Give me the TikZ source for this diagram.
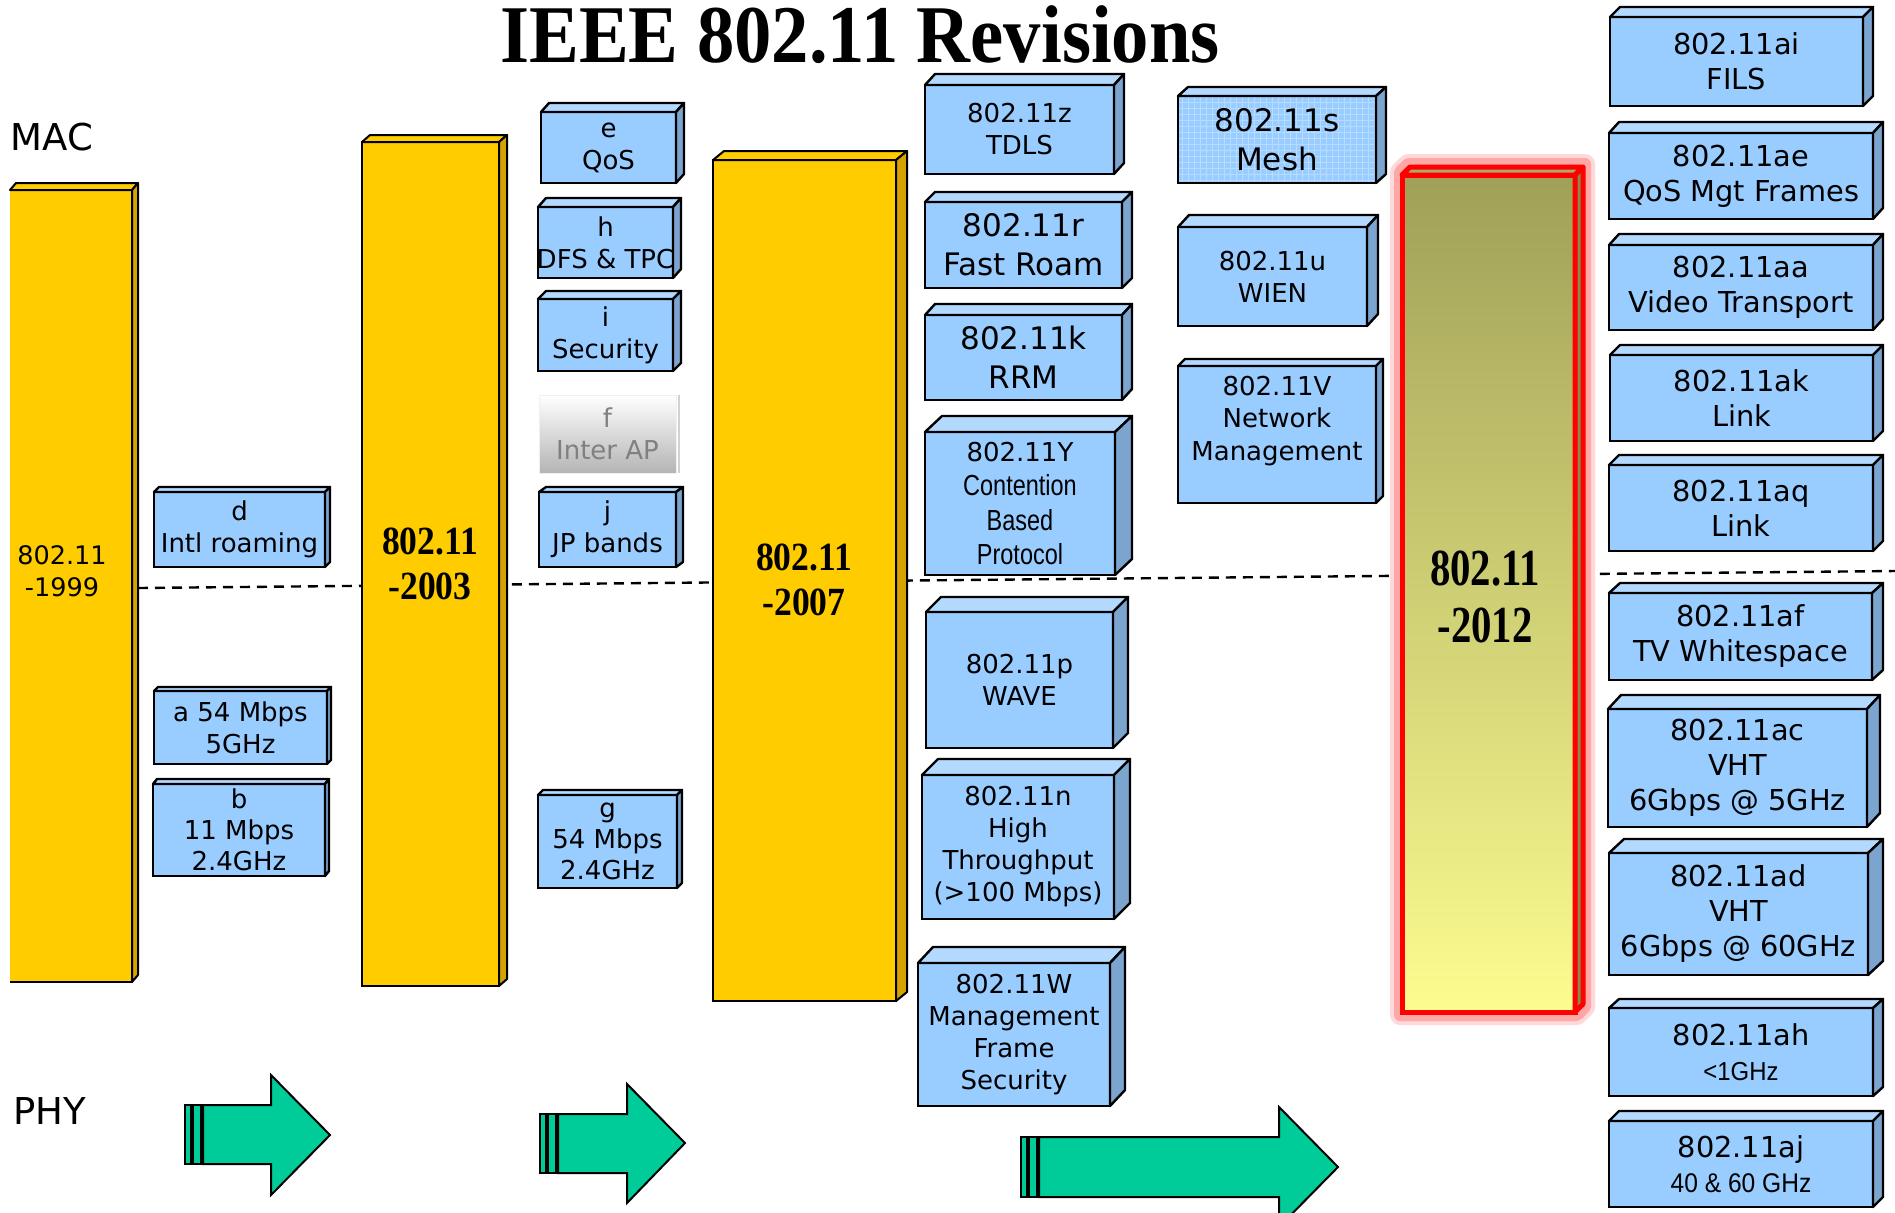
\documentclass[tikz,border=0pt]{standalone}
\usepackage{fontspec}
\setmainfont{DejaVu Sans}
\newfontfamily\revserif{Liberation Serif}
\newfontfamily\revnarrow{Liberation Sans}
\usetikzlibrary{patterns}
\definecolor{revblue}{HTML}{99CCFF}
\definecolor{revbluetop}{HTML}{B3D9FF}
\definecolor{revblueside}{HTML}{7BA4CE}
\definecolor{revmesh}{HTML}{B8DCFF}
\definecolor{revgold}{HTML}{FFCC00}
\definecolor{revgoldside}{HTML}{D4A300}
\definecolor{revgreen}{HTML}{00CC99}
\definecolor{revolive}{HTML}{A0A058}
\definecolor{revpale}{HTML}{FCFC90}
\definecolor{revgray}{HTML}{B4B4B4}
\definecolor{revgraytext}{HTML}{808080}

\newcommand{\revdepth}[4]{%
  \draw[#4top] (#1.north west) -- ([shift={(#2,-#3)}]#1.north west) -- ([shift={(#2,-#3)}]#1.north east) -- (#1.north east) -- cycle;
  \draw[#4side] (#1.north east) -- ([shift={(#2,-#3)}]#1.north east) -- ([shift={(#2,-#3)}]#1.south east) -- (#1.south east) -- cycle;}
\newcommand{\narrowtext}[3]{{\revnarrow\fontsize{#2}{#2}\selectfont\scalebox{#1}[1]{#3}}}

\begin{document}
\begin{tikzpicture}[x=0.5pt,y=-0.5pt,
    corners/.style n args={4}{at={({(#1+#3)/2},{(#2+#4)/2})},minimum width={(#3-#1)*0.5pt},minimum height={(#4-#2)*0.5pt}},
    rev/.style={draw=black,line width=1.2pt,fill=revblue,inner sep=0pt,outer sep=0pt,align=center,font=\fontsize{13}{16}\selectfont},
    revbig/.style={rev,font=\fontsize{15.5}{19.3}\selectfont},
    revwide/.style={rev,font=\fontsize{14.4}{17.5}\selectfont},
    bluetop/.style={draw=black,line width=1.2pt,fill=revbluetop,line join=round},
    blueside/.style={draw=black,line width=1.2pt,fill=revblueside,line join=round},
    bar/.style={draw=black,line width=1pt,fill=revgold,inner sep=0pt,outer sep=0pt},
    goldtop/.style={draw=black,line width=1pt,fill=revgold,line join=round},
    goldside/.style={draw=black,line width=1pt,fill=revgoldside,line join=round},
    redtop/.style={draw=red,line width=2.5pt,fill=revolive!90!white,line join=round},
    redside/.style={draw=red,line width=2.5pt,fill=revolive!85!black,line join=round},
    year/.style={font=\revserif\bfseries\fontsize{20}{22.5}\selectfont,align=center,xscale=0.89},
    phy/.style={draw=black,line width=1pt,fill=revgreen}]
  \useasboundingbox (0,0) rectangle (1895,1212);

  \coordinate (dashL) at (138,588);
  \coordinate (dashR) at (1895,571);
  \draw[line width=1.2pt,dash pattern=on 5pt off 3.5pt] (dashL) -- (dashR);

  \node[font=\revserif\bfseries\fontsize{41}{46}\selectfont,xscale=0.91,anchor=base] (title) at (860,62) {IEEE 802.11 Revisions};
  \node[font=\fontsize{18.5}{22}\selectfont] (mac) at (52,137) {MAC};
  \node[font=\fontsize{18.5}{22}\selectfont] (phy) at (50,1111) {PHY};

  \node[bar,corners={10}{190}{132}{982},draw=none] (b1999) {};
  \draw[line width=1pt] (b1999.north west) -- (b1999.north east) -- (b1999.south east) -- (b1999.south west);
  \revdepth{b1999}{6}{7}{gold}
  \node[font=\fontsize{12.75}{16}\selectfont,align=center] (t1999) at (62,571) {802.11\\-1999};

  \node[bar,corners={362}{142}{499}{986}] (b2003) {};
  \revdepth{b2003}{8}{7}{gold}
  \node[year] (t2003) at (430,564) {802.11\\-2003};

  \node[bar,corners={713}{160}{896}{1001}] (b2007) {};
  \revdepth{b2007}{11}{9}{gold}
  \node[year] (t2007) at (804,580) {802.11\\-2007};

  \draw[red!15,line width=10pt,line join=round] (1400,172) -- (1408,164) -- (1585,164) -- (1585,1007) -- (1577,1015) -- (1400,1015) -- cycle;
  \draw[red!35,line width=6pt,line join=round] (1400,172) -- (1408,164) -- (1585,164) -- (1585,1007) -- (1577,1015) -- (1400,1015) -- cycle;
  \node[corners={1402}{175}{1575}{1012},inner sep=0pt,outer sep=0pt,draw=red,line width=2.5pt,top color=revolive,bottom color=revpale] (b2012) {};
  \revdepth{b2012}{8}{8}{red}
  \node[year,font=\revserif\bfseries\fontsize{26}{28.5}\selectfont,xscale=0.88] (t2012) at (1485,597) {802.11\\-2012};

  \node[rev,corners={154}{492}{325}{567}] (d) {d\\Intl roaming};
  \revdepth{d}{5}{5}{blue}
  \node[rev,corners={154}{691}{327}{764}] (a) {a 54 Mbps\\5GHz};
  \revdepth{a}{4}{4}{blue}
  \node[rev,corners={153}{784}{325}{876},font=\fontsize{13}{15.5}\selectfont] (b) {b\\11 Mbps\\2.4GHz};
  \revdepth{b}{4}{5}{blue}

  \node[rev,corners={541}{112}{676}{183}] (e) {e\\QoS};
  \revdepth{e}{8}{9}{blue}
  \node[rev,corners={538}{207}{673}{278},path picture={\node[draw=none,fill=none,align=center,font=\fontsize{13}{16}\selectfont] at (path picture bounding box.center) {h\\DFS \& TPC};}] (h) {};
  \revdepth{h}{8}{9}{blue}
  \node[rev,corners={538}{299}{673}{371}] (i) {i\\Security};
  \revdepth{i}{8}{8}{blue}
  \node[corners={539}{395}{676}{473},inner sep=0pt,outer sep=0pt,draw=gray!12,top color=white,bottom color=revgray,text=revgraytext,align=center,font=\fontsize{13}{16}\selectfont] (f) {f\\Inter AP};
  \draw[gray!35,line width=1pt] ([xshift=1.5pt]f.north east) -- ([xshift=1.5pt]f.south east);
  \node[rev,corners={539}{492}{676}{567}] (j) {j\\JP bands};
  \revdepth{j}{7}{5}{blue}
  \node[rev,corners={538}{795}{677}{888},font=\fontsize{13}{15.5}\selectfont] (g) {g\\54 Mbps\\2.4GHz};
  \revdepth{g}{5}{5}{blue}

  \node[rev,corners={925}{85}{1114}{174}] (z) {802.11z\\TDLS};
  \revdepth{z}{10}{11}{blue}
  \node[revbig,corners={925}{202}{1122}{288}] (r) {802.11r\\Fast Roam};
  \revdepth{r}{10}{10}{blue}
  \node[revbig,corners={925}{315}{1122}{400}] (k) {802.11k\\RRM};
  \revdepth{k}{10}{11}{blue}
  \node[rev,corners={925}{432}{1115}{575},font=\fontsize{13}{17.25}\selectfont] (y) {802.11Y\\\narrowtext{0.81}{14.5}{Contention}\\\narrowtext{0.81}{14.5}{Based}\\\narrowtext{0.81}{14.5}{Protocol}};
  \revdepth{y}{17}{16}{blue}
  \node[rev,corners={926}{612}{1113}{748}] (p) {802.11p\\WAVE};
  \revdepth{p}{15}{15}{blue}
  \node[rev,corners={922}{775}{1114}{919}] (n) {802.11n\\High\\Throughput\\(>100 Mbps)};
  \revdepth{n}{16}{16}{blue}
  \node[rev,corners={918}{963}{1110}{1106}] (w) {802.11W\\Management\\Frame\\Security};
  \revdepth{w}{15}{16}{blue}

  \node[revbig,corners={1178}{96}{1376}{183},fill=none,preaction={fill=revblue},preaction={pattern=grid,pattern color=revmesh}] (s) {802.11s\\Mesh};
  \revdepth{s}{10}{9}{blue}
  \node[rev,corners={1178}{227}{1367}{326}] (u) {802.11u\\WIEN};
  \revdepth{u}{11}{12}{blue}
  \node[rev,corners={1178}{366}{1376}{503},font=\fontsize{13}{16.25}\selectfont] (v) {802.11V\\Network\\Management\\\mbox{}};
  \revdepth{v}{7}{7}{blue}

  \node[revwide,corners={1610}{17}{1863}{106}] (ai) {802.11ai\\FILS};
  \revdepth{ai}{10}{10}{blue}
  \node[revwide,corners={1609}{133}{1873}{219}] (ae) {802.11ae\\QoS Mgt Frames};
  \revdepth{ae}{10}{11}{blue}
  \node[revwide,corners={1609}{245}{1873}{330}] (aa) {802.11aa\\Video Transport};
  \revdepth{aa}{10}{11}{blue}
  \node[revwide,corners={1610}{355}{1873}{441}] (ak) {802.11ak\\Link};
  \revdepth{ak}{10}{10}{blue}
  \node[revwide,corners={1609}{465}{1873}{551}] (aq) {802.11aq\\Link};
  \revdepth{aq}{10}{10}{blue}
  \node[revwide,corners={1609}{593}{1872}{680}] (af) {802.11af\\TV Whitespace};
  \revdepth{af}{11}{10}{blue}
  \node[revwide,corners={1608}{709}{1867}{827}] (ac) {802.11ac\\VHT\\6Gbps @ 5GHz};
  \revdepth{ac}{13}{14}{blue}
  \node[revwide,corners={1609}{853}{1868}{975}] (ad) {802.11ad\\VHT\\6Gbps @ 60GHz};
  \revdepth{ad}{15}{14}{blue}
  \node[revwide,corners={1609}{1008}{1873}{1096}] (ah) {802.11ah\\\narrowtext{0.92}{13}{<1GHz}};
  \revdepth{ah}{10}{9}{blue}
  \node[revwide,corners={1609}{1121}{1873}{1207}] (aj) {802.11aj\\\narrowtext{0.91}{13.5}{40 \& 60 GHz}};
  \revdepth{aj}{10}{10}{blue}

  \draw[phy] (185,1105) rectangle (191,1164);
  \draw[phy] (193,1105) rectangle (201,1164);
  \draw[phy] (203,1105) -- (271,1105) -- (271,1075) -- (330,1135) -- (271,1195) -- (271,1164) -- (203,1164) -- cycle;
  \draw[phy] (540,1114) rectangle (546,1173);
  \draw[phy] (548,1114) rectangle (556,1173);
  \draw[phy] (558,1114) -- (627,1114) -- (627,1084) -- (685,1143) -- (627,1203) -- (627,1173) -- (558,1173) -- cycle;
  \draw[phy] (1021,1137) rectangle (1027,1197);
  \draw[phy] (1029,1137) rectangle (1037,1197);
  \draw[phy] (1039,1137) -- (1279,1137) -- (1279,1107) -- (1338,1167) -- (1279,1227) -- (1279,1197) -- (1039,1197) -- cycle;
\end{tikzpicture}
\end{document}
